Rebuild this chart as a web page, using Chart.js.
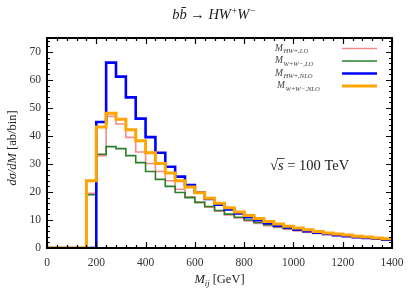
<!DOCTYPE html>
<html>
<head>
<meta charset="utf-8">
<script src="https://cdn.jsdelivr.net/npm/chart.js@4/dist/chart.umd.min.js"></script>
<style>
html,body{margin:0;padding:0;background:#fff;}
#wrap{position:relative;width:415px;height:291px;}
</style>
</head>
<body>
<div id="wrap"><canvas id="c" width="415" height="291"></canvas></div>
<script>
// Bin lower edges (GeV), 40 GeV bins from 0 to 1400
const binEdges = [0,40,80,120,160,200,240,280,320,360,400,440,480,520,560,600,640,680,720,760,800,840,880,920,960,1000,1040,1080,1120,1160,1200,1240,1280,1320,1360,1400];

// dσ/dM [ab/bin]
const hwLO   = [0,0,0,0,19.5,33,47,44.3,39.5,34.3,30.2,27.3,24,21,18.3,16.3,14.6,13.1,11.8,10.7,9.7,8.8,8.0,7.3,6.7,6.1,5.6,5.2,4.8,4.4,4.1,3.8,3.5,3.3,3.1];
const wwLO   = [0,0,0,0,19,33.5,36.2,35.5,33,30.5,27.3,24.5,22,19.8,18,16.3,14.8,13.4,12.1,11,10,9.1,8.3,7.6,7,6.4,5.9,5.4,5,4.6,4.3,4,3.7,3.4,3.2];
const hwNLO  = [0,0,0,0,0,45,66.2,61.2,53.8,46.2,39.6,34,29,25.5,22.5,19.8,17.5,15.5,13.8,12.3,11,9.9,8.9,8,7.3,6.6,6,5.5,5,4.6,4.2,3.9,3.6,3.3,3.0];
const wwNLO  = [0,0,0,0,24,43.2,48.1,46,42.2,38.3,34,30.2,26.8,24,21.8,19.7,17.8,16,14.4,12.9,11.6,10.5,9.5,8.6,7.8,7.1,6.5,5.9,5.4,5,4.6,4.2,3.9,3.6,3.3];

const seriesNames = ["HW+,LO", "W+W\u2212,LO", "HW+,NLO", "W+W\u2212,NLO"];
const xTicks = [0,200,400,600,800,1000,1200,1400];
const yTicks = [0,10,20,30,40,50,60,70];

function toSteps(vals){
  const pts = vals.map((v,i)=>({x: binEdges[i], y: v}));
  pts.push({x: binEdges[vals.length], y: vals[vals.length-1]});
  return pts;
}

const colors = ['#f48a8a', '#2a7f2a', '#0000ff', '#ffa500'];
const widths = [1.6, 1.6, 2.6, 3];

const serif = "'Liberation Serif', 'DejaVu Serif', serif";

function drawPieces(ctx, pieces, x, y){
  let cx = x;
  for (const [t, f, dy] of pieces) {
    ctx.font = f;
    ctx.fillText(t, cx, y + (dy || 0));
    cx += ctx.measureText(t).width;
  }
  return cx - x;
}
function measurePieces(ctx, pieces){
  let w = 0;
  for (const [t, f] of pieces) { ctx.font = f; w += ctx.measureText(t).width; }
  return w;
}

const decor = {
  id: 'decor',
  afterDatasetsDraw(chart){
    const ctx = chart.ctx;
    const a = chart.chartArea;
    const xs = chart.scales.x, ys = chart.scales.y;
    ctx.save();
    ctx.strokeStyle = '#000';
    ctx.lineWidth = 1.2;
    for (let v = 0; v <= 1400; v += 40) {
      const px = Math.round(xs.getPixelForValue(v)) + 0.5;
      const len = (v % 200 === 0) ? 6 : 3;
      ctx.beginPath();
      ctx.moveTo(px, a.bottom); ctx.lineTo(px, a.bottom - len);
      ctx.moveTo(px, a.top); ctx.lineTo(px, a.top + len);
      ctx.stroke();
    }
    for (let v = 0; v <= 75; v += 2) {
      const py = Math.round(ys.getPixelForValue(v)) + 0.5;
      const len = (v % 10 === 0) ? 6 : 3;
      ctx.beginPath();
      ctx.moveTo(a.left, py); ctx.lineTo(a.left + len, py);
      ctx.moveTo(a.right, py); ctx.lineTo(a.right - len, py);
      ctx.stroke();
    }
    ctx.lineWidth = 2;
    ctx.strokeRect(a.left, a.top, a.right - a.left, a.bottom - a.top);

    // legend
    const rowY = [48.5, 61, 73.5, 86];
    const textX = [275, 275, 275, 277];
    for (let i = 0; i < 4; i++) {
      ctx.strokeStyle = colors[i];
      ctx.lineWidth = widths[i];
      ctx.beginPath();
      ctx.moveTo(342, rowY[i]); ctx.lineTo(377, rowY[i]);
      ctx.stroke();
      ctx.fillStyle = '#444';
      ctx.textBaseline = 'alphabetic';
      ctx.textAlign = 'left';
      ctx.font = "italic 9.5px " + serif;
      ctx.fillText('M', textX[i], rowY[i] + 2);
      const mw = ctx.measureText('M').width;
      ctx.font = "italic 6.6px " + serif;
      ctx.fillText(seriesNames[i], textX[i] + mw + 0.5, rowY[i] + 4.5);
    }

    // sqrt(s) annotation
    ctx.fillStyle = '#222';
    ctx.textAlign = 'left';
    ctx.textBaseline = 'alphabetic';
    const f14 = "14.5px " + serif, f14i = "italic 14.5px " + serif;
    const x0 = 270, by = 170;
    ctx.font = f14;
    const rw = ctx.measureText('\u221A').width;
    ctx.fillText('\u221A', x0, by);
    ctx.font = f14i;
    const sw = ctx.measureText('s').width;
    ctx.fillText('s', x0 + rw, by);
    ctx.strokeStyle = '#222'; ctx.lineWidth = 0.8;
    ctx.beginPath(); ctx.moveTo(x0 + rw - 1, by - 11.5); ctx.lineTo(x0 + rw + sw + 1, by - 11.5); ctx.stroke();
    ctx.font = f14;
    ctx.fillText(' = 100 TeV', x0 + rw + sw, by);

    // axis titles
    const fi = "italic 12.5px " + serif, fu = "12.5px " + serif, fs = "italic 8.5px " + serif;
    const xt = [['M', fi, 0], ['ij', fs, 3], [' [GeV]', fu, 0]];
    const xw = measurePieces(ctx, xt);
    drawPieces(ctx, xt, (a.left + a.right)/2 - xw/2, 283);
    const yt = [['d\u03C3/dM', fi, 0], [' [ab/bin]', fu, 0]];
    const yw = measurePieces(ctx, yt);
    ctx.translate(16, 148);
    ctx.rotate(-Math.PI/2);
    drawPieces(ctx, yt, -yw/2, 0);
    ctx.restore();
  },
  beforeDraw(chart){
    const ctx = chart.ctx;
    ctx.save();
    ctx.fillStyle = '#fff';
    ctx.fillRect(0,0,chart.width,chart.height);
    ctx.fillStyle = '#222';
    ctx.textAlign = 'left';
    ctx.textBaseline = 'alphabetic';
    const fi = "italic 14.5px " + serif, fu = "14.5px " + serif, fsup = "italic 9.5px " + serif;
    const pieces = [['bb\u0304', fi, 0], [' \u2192 ', fu, 0], ['HW', fi, 0], ['+', fsup, -5.5], ['W', fi, 0], ['\u2212', fsup, -5.5]];
    const w = measurePieces(ctx, pieces);
    drawPieces(ctx, pieces, 214 - w/2, 19);
    ctx.restore();
  }
};

new Chart(document.getElementById('c'), {
  type: 'line',
  data: {
    datasets: [
      { label: 'M_{HW+,LO}', data: toSteps(hwLO), borderColor: colors[0], borderWidth: widths[0], order: 3 },
      { label: 'M_{W+W-,LO}', data: toSteps(wwLO), borderColor: colors[1], borderWidth: widths[1], order: 2 },
      { label: 'M_{HW+,NLO}', data: toSteps(hwNLO), borderColor: colors[2], borderWidth: widths[2], order: 1 },
      { label: 'M_{W+W-,NLO}', data: toSteps(wwNLO), borderColor: colors[3], borderWidth: widths[3], order: 0 }
    ].map(d => Object.assign(d, { stepped: 'before', pointRadius: 0, fill: false, tension: 0, borderJoinStyle: 'miter' }))
  },
  options: {
    responsive: false,
    animation: false,
    devicePixelRatio: 1,
    layout: { padding: { top: 38, right: 23, left: 0, bottom: 0 } },
    plugins: { legend: { display: false }, tooltip: { enabled: false }, title: { display: false } },
    scales: {
      x: {
        type: 'linear', min: 0, max: 1400,
        afterBuildTicks(s){ s.ticks = xTicks.map(v => ({value: v})); },
        afterFit(s){ s.height = 43; },
        grid: { display: false, drawTicks: false },
        border: { display: false },
        ticks: { color: '#333', font: { family: serif, size: 11.5 }, padding: 8, maxRotation: 0, autoSkip: false, callback: v => String(v) },
        title: { display: false }
      },
      y: {
        type: 'linear', min: 0, max: 75,
        afterBuildTicks(s){ s.ticks = yTicks.map(v => ({value: v})); },
        afterFit(s){ s.width = 47; },
        grid: { display: false, drawTicks: false },
        border: { display: false },
        ticks: { color: '#333', font: { family: serif, size: 11.5 }, padding: 6, autoSkip: false, callback: v => String(v) },
        title: { display: false }
      }
    }
  },
  plugins: [decor]
});
</script>
</body>
</html>
